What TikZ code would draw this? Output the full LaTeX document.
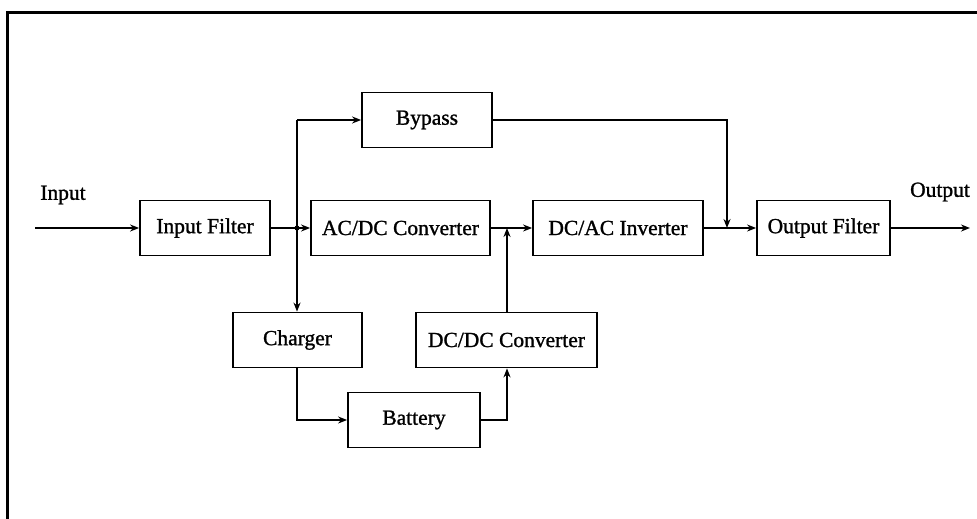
\documentclass[tikz,border=0pt]{standalone}
\usepackage{fontspec}
\setmainfont{Liberation Serif}
\newfontfamily\heavyserif[FakeBold=1.2]{Liberation Serif}
\usetikzlibrary{arrows.meta}
\begin{document}
\begin{tikzpicture}[x=1pt,y=-1pt,
  blk/.style={draw,line width=1.8pt,minimum width=#1,minimum height=55pt,inner sep=0pt,font=\heavyserif\fontsize{21.5}{24}\selectfont},
  conn/.style={line width=1.8pt,-{Stealth[length=9pt,width=7pt]}},
  plain/.style={line width=1.8pt},
  lbl/.style={font=\heavyserif\fontsize{21.5}{24}\selectfont}]
\useasboundingbox (0,0) rectangle (977,519);
\draw[line width=3pt] (7,519) -- (7,13) -- (977,13);
\node[blk=130pt] (inf) at (205,228) {Input Filter};
\node[blk=130pt] (byp) at (427,120) {Bypass};
\node[blk=179pt] (acdc) at (400.5,228) {AC/DC Converter};
\node[blk=170pt] (dcac) at (618,228) {DC/AC Inverter};
\node[blk=133pt] (outf) at (823.5,228) {Output Filter};
\node[blk=129pt] (chg) at (297.5,340) {Charger};
\node[blk=181pt] (dcdc) at (506.5,340) {DC/DC Converter};
\node[blk=132pt] (bat) at (414,420) {Battery};
\node[lbl] (inl) at (63,195) {Input};
\node[lbl] (outl) at (940,192) {Output};
\coordinate (instart) at (35,228);
\coordinate (outend) at (970,228);
\coordinate (j1) at (297,228);
\coordinate (j1top) at (297,120);
\coordinate (j2) at (507,228);
\coordinate (j3) at (727,228);
\coordinate (j3top) at (727,120);
\coordinate (c1) at (297,420);
\coordinate (c2) at (507,420);
\draw[conn] (instart) -- (inf.west);
\draw[conn] (inf.east) -- (acdc.west);
\fill (j1) circle (2.5pt);
\draw[plain] (j1top) -- (j1);
\draw[conn] (j1top) -- (byp.west);
\draw[conn] (j1) -- (chg.north -| j1);
\draw[conn] (acdc.east) -- (dcac.west);
\draw[conn] (dcdc.north -| j2) -- (j2);
\draw[conn] (byp.east) -- (j3top) -- (j3);
\draw[conn] (dcac.east) -- (outf.west);
\draw[conn] (outf.east) -- (outend);
\draw[conn] (chg.south -| c1) -- (c1) -- (bat.west);
\draw[conn] (bat.east) -- (c2) -- (dcdc.south -| c2);
\end{tikzpicture}
\end{document}
